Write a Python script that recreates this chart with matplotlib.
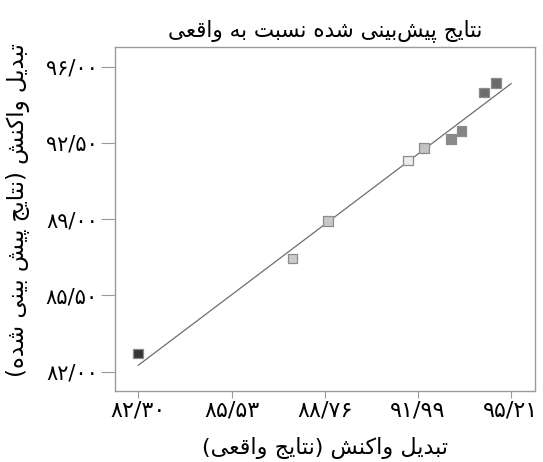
"""Predicted vs. actual reaction conversion (parity plot), Persian labels."""
import matplotlib
matplotlib.use("Agg")
import matplotlib.pyplot as plt

# data
actual = [82.28, 87.65, 88.87, 91.64, 92.21, 93.13, 93.50, 94.29, 94.70]
predicted = [82.83, 87.19, 88.92, 91.70, 92.27, 92.67, 93.05, 94.82, 95.24]
point_colors = ["#333333", "#cccccc", "#c8c8c8", "#ececec", "#c4c4c4",
                "#8a8a8a", "#858585", "#6c6c6c", "#6a6a6a"]
fit_range = [82.30, 95.22]

x_ticks = [82.30, 85.53, 88.76, 91.99, 95.21]
x_tick_labels = ["۸۲/۳۰", "۸۵/۵۳", "۸۸/۷۶", "۹۱/۹۹", "۹۵/۲۱"]
y_ticks = [82.0, 85.5, 89.0, 92.5, 96.0]
y_tick_labels = ["۸۲/۰۰", "۸۵/۵۰", "۸۹/۰۰", "۹۲/۵۰", "۹۶/۰۰"]

TITLE = "نتایج پیش‌بینی شده نسبت به واقعی"
XLABEL = "تبدیل واکنش (نتایج واقعی)"
YLABEL = "تبدیل واکنش (نتایج پیش بینی شده)"

# minimal Arabic/Persian shaping: (isolated, final, initial, medial)
FORMS = {
    "ا": ("\uFE8D", "\uFE8E", None, None),
    "ب": ("\uFE8F", "\uFE90", "\uFE91", "\uFE92"),
    "ت": ("\uFE95", "\uFE96", "\uFE97", "\uFE98"),
    "ج": ("\uFE9D", "\uFE9E", "\uFE9F", "\uFEA0"),
    "د": ("\uFEA9", "\uFEAA", None, None),
    "س": ("\uFEB1", "\uFEB2", "\uFEB3", "\uFEB4"),
    "ش": ("\uFEB5", "\uFEB6", "\uFEB7", "\uFEB8"),
    "ع": ("\uFEC9", "\uFECA", "\uFECB", "\uFECC"),
    "ق": ("\uFED5", "\uFED6", "\uFED7", "\uFED8"),
    "ل": ("\uFEDD", "\uFEDE", "\uFEDF", "\uFEE0"),
    "ن": ("\uFEE5", "\uFEE6", "\uFEE7", "\uFEE8"),
    "ه": ("\uFEE9", "\uFEEA", "\uFEEB", "\uFEEC"),
    "و": ("\uFEED", "\uFEEE", None, None),
    "پ": ("\uFB56", "\uFB57", "\uFB58", "\uFB59"),
    "ک": ("\uFB8E", "\uFB8F", "\uFB90", "\uFB91"),
    "ی": ("\uFBFC", "\uFBFD", "\uFBFE", "\uFBFF"),
}
MIRROR = {"(": ")", ")": "("}


def rtl(s):
    out = []
    for i, c in enumerate(s):
        if c == "\u200c":
            continue
        if c not in FORMS:
            out.append(c)
            continue
        iso, fin, ini, med = FORMS[c]
        prev = s[i - 1] if i > 0 else ""
        nxt = s[i + 1] if i + 1 < len(s) else ""
        jp = prev in FORMS and FORMS[prev][2] is not None
        jn = ini is not None and nxt in FORMS
        if jp and jn:
            out.append(med)
        elif jp:
            out.append(fin)
        elif jn:
            out.append(ini)
        else:
            out.append(iso)
    return "".join(MIRROR.get(c, c) for c in reversed(out))


plt.rcParams["font.family"] = ["DejaVu Sans"]

SPINE = "#9a9a9a"

fig = plt.figure(figsize=(5.43, 4.62), dpi=100)
ax = fig.add_axes([0.2112, 0.1543, 0.7741, 0.7433])

ax.plot(fit_range, fit_range, color="#6e6e6e", lw=0.9, zorder=2)
ax.scatter(actual, predicted, marker="s", s=48, c=point_colors,
           edgecolors="#8c8c8c", linewidths=0.9, zorder=3)

ax.set_xlim(81.48, 96.05)
ax.set_ylim(81.13, 96.89)

ax.set_xticks(x_ticks)
ax.set_xticklabels(x_tick_labels, fontsize=16)
ax.set_yticks(y_ticks)
ax.set_yticklabels(y_tick_labels, fontsize=15)
ax.tick_params(axis="x", length=5, color=SPINE, pad=2)
ax.tick_params(axis="y", length=10, color=SPINE, pad=2)

for spine in ax.spines.values():
    spine.set_color(SPINE)
    spine.set_linewidth(1.0)

ax.set_title(rtl(TITLE), fontsize=15.5, y=1.05, va="center", pad=0)
ax.set_xlabel(rtl(XLABEL), fontsize=16, va="center")
ax.xaxis.set_label_coords(0.5, -0.167)
ax.set_ylabel(rtl(YLABEL), fontsize=16.5, va="center")
ax.yaxis.set_label_coords(-0.23, 0.526)

fig.savefig("out.png", dpi=100, facecolor="white")
